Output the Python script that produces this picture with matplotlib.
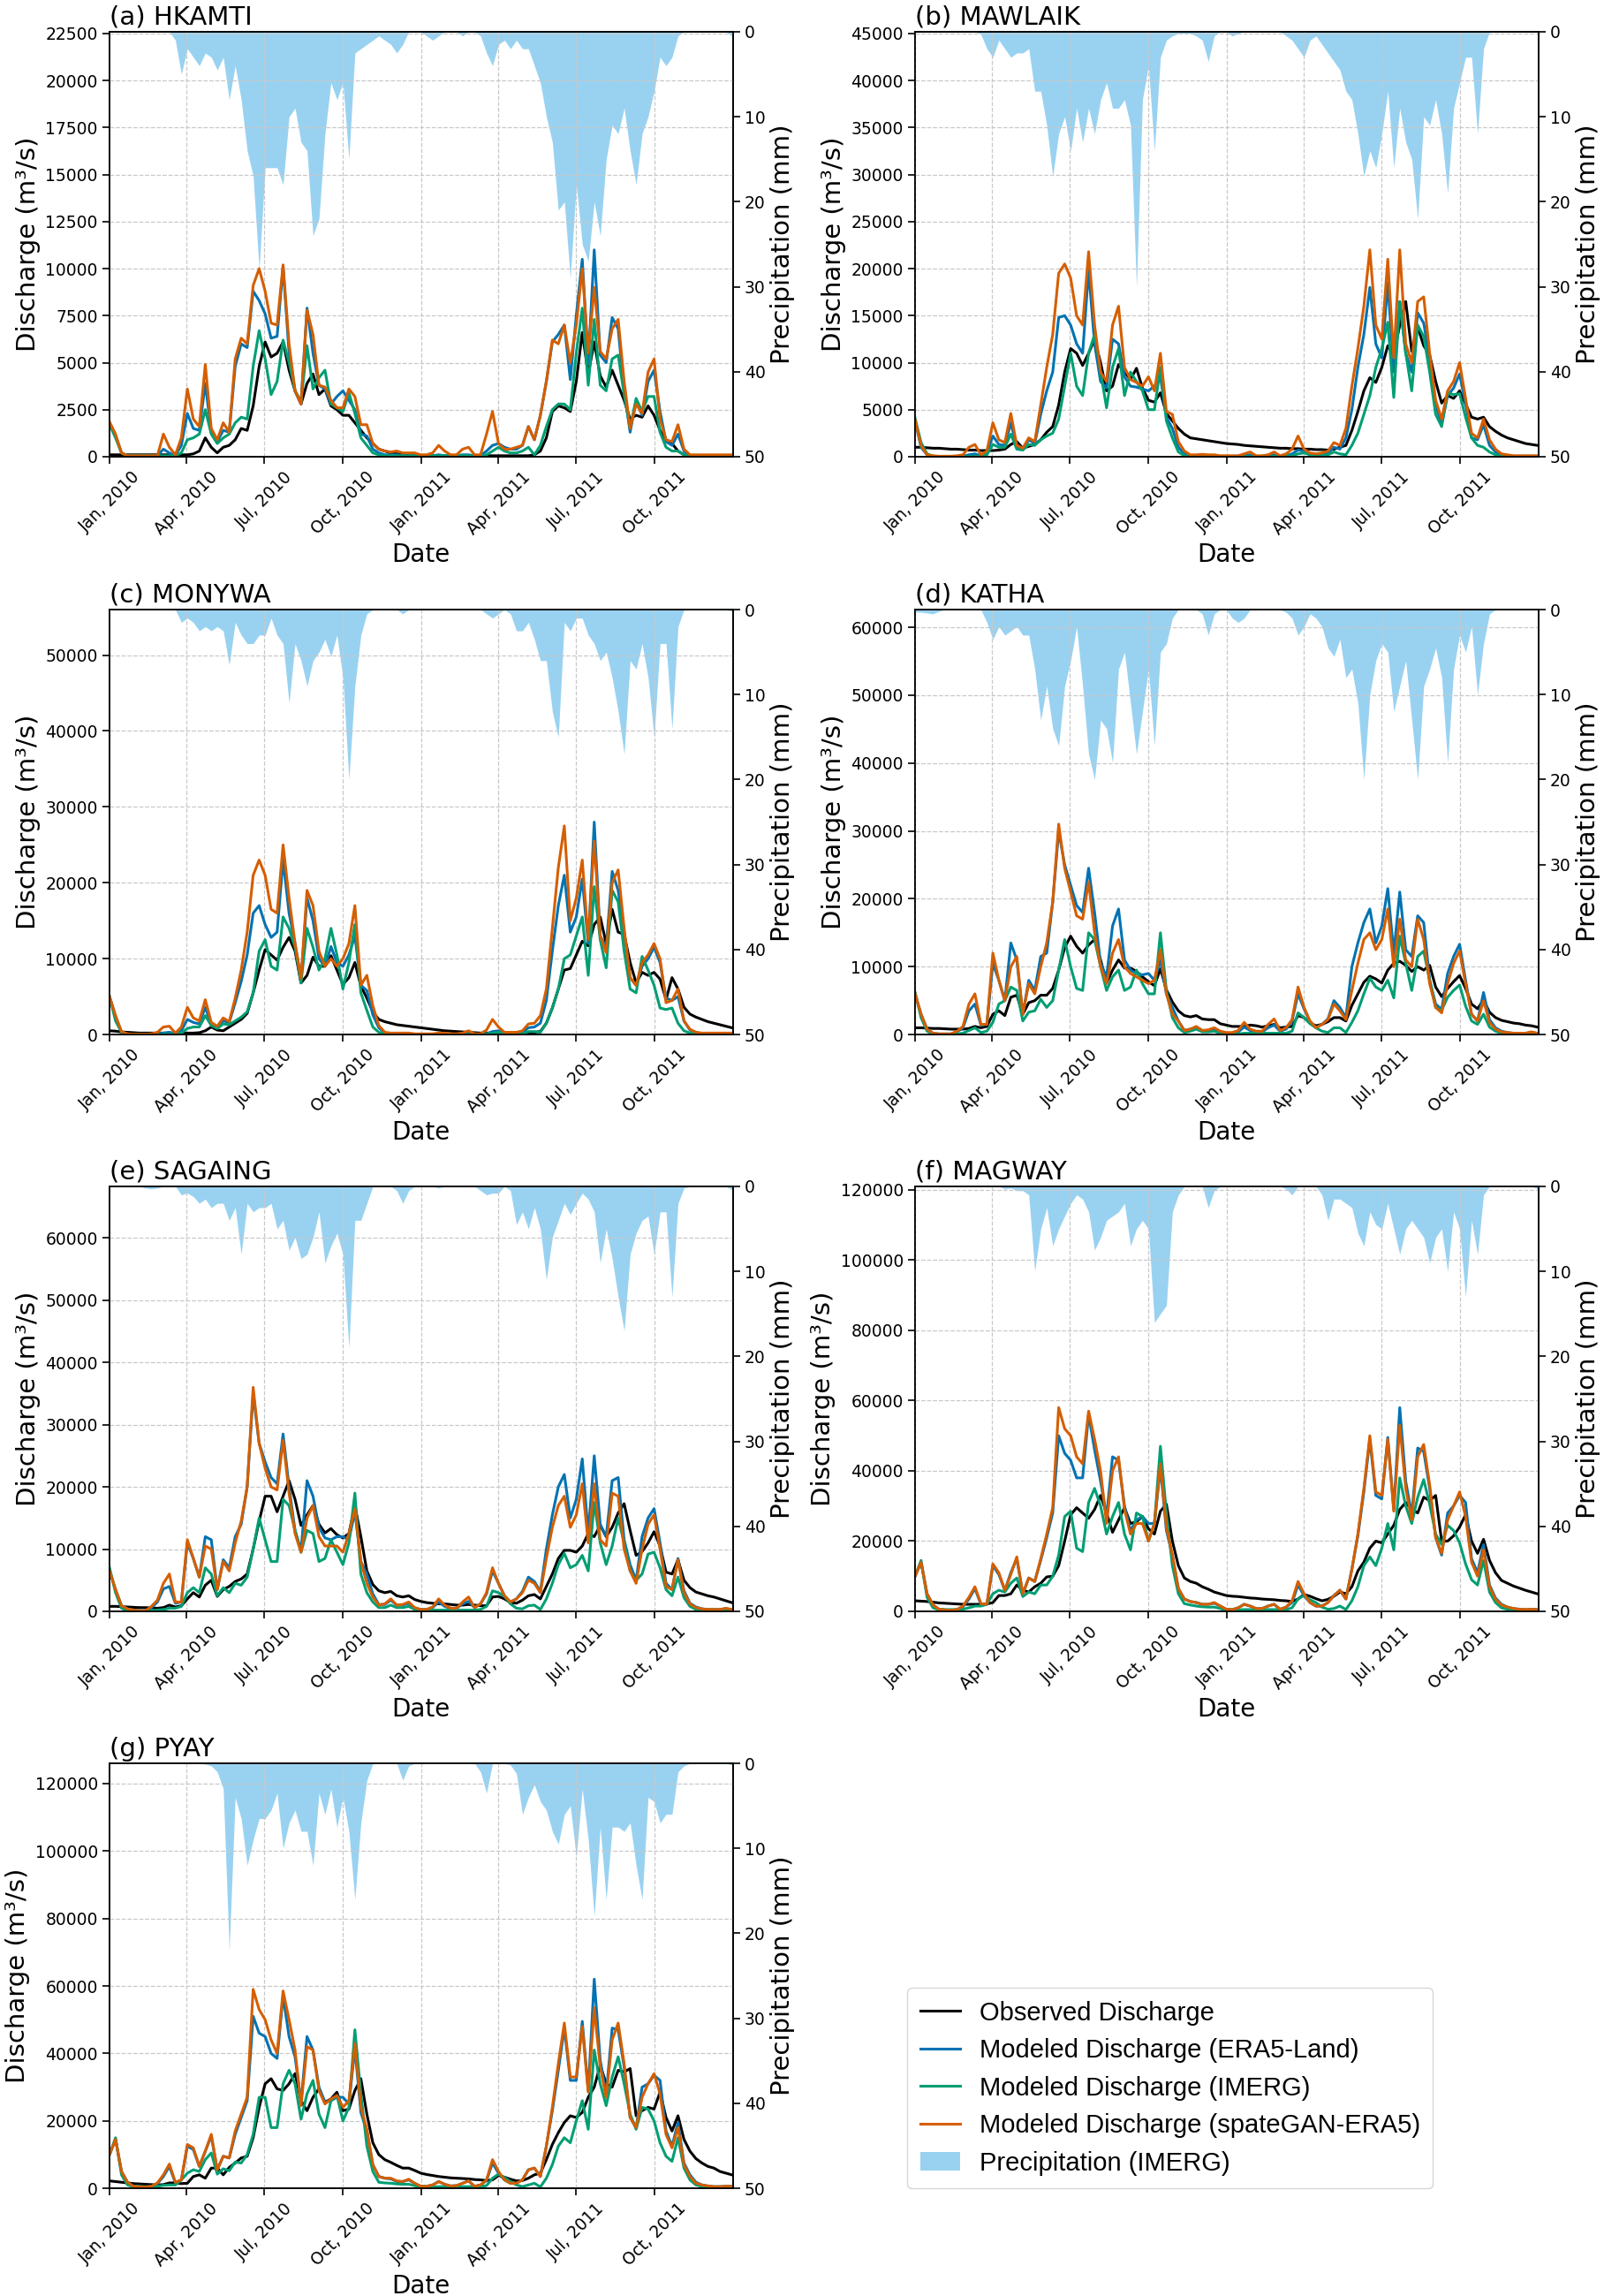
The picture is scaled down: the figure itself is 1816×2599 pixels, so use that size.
import numpy as np
import pandas as pd
import matplotlib
matplotlib.use('Agg')
import matplotlib.pyplot as plt
import matplotlib.dates as mdates
from matplotlib.ticker import MultipleLocator
from matplotlib.lines import Line2D
from matplotlib.patches import Patch

# weekly readings from 2010-01-01, discharge in 1000 m3/s, precipitation in mm

# (a) HKAMTI
HK_OBS = [0.1,0.1,0.1,0.1,0.1,0.1,0.1,0.1,0.1,0.1,
          0.1,0.1,0.1,0.1,0.15,0.3,1.0,0.5,0.2,0.5,
          0.6,0.9,1.5,1.4,2.7,4.8,6.1,5.3,5.5,6.1,
          4.6,3.5,2.8,3.9,4.4,3.3,3.6,2.7,2.5,2.2,
          2.2,1.8,1.4,1.0,0.7,0.4,0.3,0.2,0.15,0.1,
          0.05,0.05,0.05,0.05,0.05,0.05,0.05,0.05,0.05,0.05,
          0.05,0.05,0.05,0.05,0.05,0.05,0.05,0.05,0.05,0.05,
          0.05,0.1,0.3,1.0,2.4,2.7,2.6,2.4,4.0,6.6,
          4.4,6.1,4.3,3.7,4.6,3.8,3.0,2.0,2.2,2.1,
          2.7,2.2,1.4,0.8,0.7,0.3,0.1,0.05,0.05,0.05,
          0.05,0.05,0.05,0.05,0.05]
HK_ERA5 = [1.8,1.1,0.2,0.05,0.05,0.05,0.05,0.05,0.05,0.4,
           0.2,0.05,0.6,2.3,1.5,1.4,3.9,1.3,0.8,1.4,
           1.3,4.8,6.0,5.8,8.8,8.3,7.6,6.3,6.4,10.1,
           5.5,3.5,2.9,7.9,5.5,3.8,3.6,2.8,3.2,3.5,
           3.0,2.5,1.2,1.1,0.4,0.2,0.1,0.1,0.1,0.05,
           0.05,0.05,0.05,0.05,0.05,0.1,0.05,0.05,0.05,0.1,
           0.1,0.05,0.05,0.3,0.6,0.7,0.5,0.4,0.4,0.6,
           1.6,0.9,2.2,4.0,6.1,6.5,7.0,4.1,7.5,10.5,
           5.0,11.0,5.4,5.0,7.4,6.8,3.5,1.3,3.0,2.2,
           4.0,4.6,2.4,0.8,0.6,1.2,0.3,0.05,0.05,0.05,
           0.05,0.05,0.05,0.05,0.05]
HK_IMERG = [1.7,1.0,0.2,0.05,0.05,0.05,0.05,0.05,0.05,0.05,
            0.05,0.05,0.2,0.9,1.0,1.2,2.5,1.2,0.7,1.0,
            1.2,1.8,2.1,2.0,4.8,6.7,5.2,3.3,4.0,6.2,
            5.0,3.5,2.9,5.9,3.6,4.2,4.6,2.8,2.6,2.4,
            3.4,2.3,1.0,0.6,0.2,0.1,0.05,0.05,0.05,0.05,
            0.05,0.05,0.05,0.05,0.05,0.05,0.05,0.05,0.05,0.05,
            0.05,0.05,0.05,0.1,0.3,0.5,0.3,0.2,0.2,0.3,
            0.5,0.1,0.6,1.6,2.5,2.8,2.8,2.5,5.5,7.9,
            3.8,7.3,3.8,3.5,5.2,5.4,3.3,1.5,3.1,2.4,
            3.2,3.2,1.3,0.5,0.3,0.3,0.1,0.02,0.02,0.02,
            0.02,0.02,0.02,0.02,0.02]
HK_GAN = [1.85,1.2,0.2,0.05,0.05,0.05,0.05,0.05,0.05,1.2,
          0.5,0.1,1.0,3.6,2.0,1.6,4.9,1.5,0.9,1.8,
          1.3,5.2,6.3,6.0,9.1,10.0,8.8,7.1,7.0,10.2,
          6.0,3.5,2.8,7.8,6.5,3.8,3.7,3.0,2.6,2.6,
          3.6,3.2,1.7,1.7,0.7,0.4,0.3,0.25,0.3,0.2,
          0.2,0.2,0.1,0.1,0.2,0.6,0.3,0.1,0.1,0.4,
          0.5,0.1,0.1,1.2,2.4,0.7,0.4,0.4,0.5,0.6,
          1.6,0.9,2.2,4.0,6.2,6.0,7.0,5.0,7.0,10.0,
          5.5,9.0,5.6,5.2,6.8,7.3,4.0,1.5,2.8,2.3,
          4.5,5.2,2.0,0.9,0.8,1.7,0.4,0.1,0.1,0.1,
          0.1,0.1,0.1,0.1,0.1]
HK_PRECIP = [0,0,0,0,0,0,0,0,0,0,
             0,1,5,2,3,4,2.5,3,4.5,3,
             8,4,8,14,17,28,16,16,16,18,
             10,9,13,14,24,22,12,6,8,6,
             15,2.5,2,1.5,1,0.5,1,1.5,2.5,1.5,
             0,0,0,0.5,1,0.5,0,0,0,0.5,
             0,0,0.5,2.5,4,1.5,1,2,1,2,
             2,4,6,10,13,21,20,29,18,25,
             27,20,24,15,11,12,9,14,18,12,
             10,7,3,4,3,0.5,0,0,0,0,
             0,0,0,0,0.5]

# (b) MAWLAIK
MW_OBS = [1.0,1.0,0.95,0.9,0.9,0.85,0.8,0.8,0.75,0.7,
          0.7,0.65,0.65,0.65,0.7,0.8,1.3,1.6,0.9,1.1,
          1.3,1.8,2.6,3.2,5.5,9.0,11.5,11.0,9.7,11.0,
          12.5,10.0,7.0,7.5,9.8,9.0,8.2,9.4,7.3,6.0,
          5.8,6.8,4.6,3.8,3.0,2.4,2.0,1.9,1.8,1.7,
          1.6,1.5,1.4,1.35,1.3,1.2,1.15,1.1,1.05,1.0,
          0.95,0.9,0.9,0.85,0.85,0.8,0.8,0.75,0.75,0.7,
          0.8,1.0,1.2,2.8,4.8,7.0,8.4,7.9,9.5,11.8,
          10.8,14.0,16.5,11.2,13.8,11.8,10.8,8.0,5.7,6.5,
          6.2,7.0,5.6,4.2,4.0,4.2,3.2,2.7,2.3,2.0,
          1.8,1.6,1.4,1.3,1.2]
MW_ERA5 = [3.8,1.0,0.2,0.05,0.02,0.02,0.02,0.02,0.05,0.2,
           0.3,0.1,0.4,2.2,1.3,1.2,3.6,1.0,0.8,1.8,
           1.4,4.5,7.0,9.0,14.8,15.0,14.0,12.0,11.0,19.8,
           12.0,8.0,7.3,12.5,12.0,8.5,7.5,7.4,7.2,7.0,
           7.5,8.5,4.2,3.0,1.0,0.3,0.1,0.1,0.1,0.1,
           0.05,0.05,0.05,0.05,0.05,0.1,0.2,0.05,0.05,0.05,
           0.2,0.05,0.1,0.3,0.7,0.6,0.3,0.2,0.2,0.4,
           1.0,0.8,2.0,5.0,9.5,13.0,18.0,12.0,10.5,18.5,
           9.0,16.5,11.0,9.0,15.3,14.2,10.5,5.5,3.5,6.5,
           7.3,8.8,5.6,2.0,1.8,3.4,1.2,0.5,0.2,0.1,
           0.05,0.05,0.05,0.05,0.05]
MW_IMERG = [4.1,1.5,0.3,0.05,0.02,0.02,0.02,0.02,0.02,0.02,
            0.05,0.05,0.2,1.3,1.0,1.0,2.4,0.8,0.7,1.3,
            1.2,1.8,2.2,2.5,4.0,7.5,11.0,7.5,6.5,11.0,
            13.0,9.0,5.2,9.5,11.5,6.5,9.0,8.0,7.0,5.0,
            5.0,9.5,3.8,2.0,0.5,0.1,0.02,0.02,0.02,0.02,
            0.02,0.02,0.02,0.02,0.02,0.02,0.02,0.02,0.02,0.02,
            0.05,0.02,0.05,0.1,0.3,0.4,0.2,0.1,0.1,0.2,
            0.5,0.3,0.2,1.2,2.5,4.5,6.5,9.5,11.5,14.3,
            6.3,16.5,11.0,7.0,14.0,12.8,9.0,4.5,3.2,6.8,
            6.6,6.7,4.2,2.0,1.2,1.0,0.5,0.2,0.05,0.02,
            0.02,0.02,0.02,0.02,0.02]
MW_GAN = [3.9,1.2,0.2,0.1,0.05,0.05,0.05,0.1,0.2,1.0,
          1.3,0.2,0.6,3.6,1.8,1.5,4.6,1.2,0.9,2.0,
          1.6,5.5,9.5,13.0,19.5,20.5,19.0,15.0,14.0,21.8,
          14.0,9.0,8.0,14.0,16.0,9.5,8.2,7.9,7.5,8.5,
          7.0,11.0,4.8,4.5,1.6,0.6,0.2,0.2,0.25,0.2,
          0.2,0.1,0.1,0.1,0.1,0.3,0.5,0.1,0.1,0.2,
          0.5,0.1,0.3,0.8,2.2,0.8,0.4,0.3,0.4,0.6,
          1.5,1.2,3.0,7.5,11.5,16.0,22.0,14.0,12.5,21.0,
          10.5,22.0,12.0,10.0,16.5,17.0,11.0,6.0,4.0,7.0,
          8.0,10.0,6.2,2.5,2.0,4.0,1.8,0.8,0.3,0.2,
          0.1,0.1,0.1,0.1,0.1]
MW_PRECIP = [0,0,0,0,0,0,0,0,0,0,
             0,0.3,2,3,1,2,3,2.5,2.5,2,
             7,7,11,17,12,10,14,9,13,9,
             12,8,6,9,9,8,11,30,8,4,
             14,3,1,0.5,0.2,0.2,0.2,0.5,1,3.5,
             0.5,0,0,0.5,0.2,0,0,0,0,0,
             0,0,0.5,1,2,3,1,0.5,1.5,2.5,
             3.5,4.5,7,8,12,17,14,16,12,7,
             16,9,13,15,22,10,11,8,12,19,
             9,6,3,3,12,2,0,0,0,0,
             0,0,0,0,0]

# (c) MONYWA
MY_OBS = [0.5,0.45,0.35,0.3,0.25,0.2,0.2,0.2,0.2,0.2,
          0.2,0.2,0.2,0.2,0.2,0.25,0.5,1.0,0.6,0.5,
          1.0,1.5,2.0,2.8,5.5,8.5,11.2,10.5,9.8,11.5,
          12.8,11.0,6.8,7.8,10.2,9.0,9.0,10.4,8.5,6.6,
          7.5,9.5,6.4,4.8,3.0,2.0,1.7,1.5,1.3,1.2,
          1.1,1.0,0.9,0.8,0.7,0.6,0.5,0.45,0.4,0.35,
          0.3,0.25,0.2,0.2,0.2,0.2,0.2,0.2,0.25,0.3,
          0.3,0.3,0.4,1.5,3.5,6.0,8.5,8.7,10.5,12.3,
          11.7,14.5,15.5,12.0,16.5,13.5,13.2,9.5,6.8,8.2,
          7.8,8.2,7.3,4.6,7.5,6.0,3.6,2.7,2.3,2.0,
          1.7,1.5,1.3,1.1,0.9]
MY_ERA5 = [5.0,2.4,0.3,0.05,0.05,0.05,0.05,0.05,0.1,0.2,
           0.3,0.1,0.5,2.0,1.6,1.4,3.6,1.3,0.9,1.8,
           1.6,4.2,7.0,10.5,16.0,17.0,14.5,12.8,13.5,23.0,
           16.0,12.0,7.2,18.0,15.0,10.0,9.0,11.6,9.5,9.0,
           10.5,13.0,6.5,5.8,2.6,0.9,0.2,0.1,0.1,0.1,
           0.1,0.05,0.05,0.05,0.05,0.05,0.05,0.05,0.05,0.05,
           0.1,0.05,0.05,0.1,0.4,0.5,0.2,0.2,0.2,0.3,
           0.9,1.0,1.5,4.5,11.0,17.0,21.0,13.5,15.5,20.5,
           12.0,28.0,13.0,11.5,21.5,19.0,13.5,7.5,6.5,9.0,
           10.0,11.5,9.5,4.8,4.5,5.0,1.8,0.6,0.3,0.1,
           0.1,0.1,0.1,0.1,0.1]
MY_IMERG = [5.0,1.8,0.3,0.05,0.02,0.02,0.02,0.02,0.02,0.02,
            0.05,0.05,0.2,0.8,1.0,1.0,2.5,1.2,0.8,1.4,
            1.3,1.8,2.3,3.0,5.5,11.0,12.5,9.0,8.5,15.5,
            14.0,11.5,6.8,14.0,11.5,8.5,10.0,14.0,10.5,6.0,
            9.5,14.5,5.5,3.2,1.0,0.3,0.05,0.02,0.02,0.02,
            0.02,0.02,0.02,0.02,0.02,0.02,0.02,0.02,0.02,0.02,
            0.02,0.02,0.02,0.05,0.2,0.3,0.1,0.05,0.05,0.1,
            0.4,0.4,0.3,1.5,3.5,6.0,10.0,10.5,13.0,15.5,
            7.8,19.5,12.5,8.8,19.0,17.5,11.0,6.0,5.5,10.3,
            8.5,6.5,3.5,3.3,3.5,1.5,0.5,0.2,0.1,0.05,
            0.05,0.05,0.05,0.05,0.05]
MY_GAN = [5.0,2.5,0.4,0.1,0.05,0.05,0.05,0.1,0.3,1.0,
          1.1,0.2,1.0,3.6,2.2,1.8,4.6,1.6,1.1,2.2,
          1.7,4.8,8.5,13.5,21.0,23.0,21.0,16.5,16.0,25.0,
          18.0,12.0,7.4,19.0,17.0,11.0,9.0,10.0,9.0,10.0,
          12.0,17.0,6.5,7.8,3.8,1.2,0.3,0.2,0.2,0.2,
          0.2,0.1,0.1,0.1,0.1,0.2,0.2,0.1,0.1,0.2,
          0.5,0.1,0.1,0.6,2.0,1.0,0.3,0.3,0.3,0.5,
          1.4,1.5,2.5,6.0,14.0,22.0,27.5,15.0,18.0,23.0,
          12.5,25.5,13.0,10.8,20.0,21.7,14.0,7.5,6.5,9.5,
          10.5,12.0,10.0,4.2,4.5,6.0,1.8,0.7,0.3,0.2,
          0.2,0.2,0.2,0.2,0.2]
MY_PRECIP = [0,0,0,0,0,0,0,0,0,0,
             0,0,1.5,1,1.5,2.5,2,2.5,2,2.5,
             6.5,1.5,3,4,4,3,3,1,3,4,
             11,4,6,9,6,5,3.5,5.5,3,8,
             20,9,3,0.5,0,0,0,0,0,0.5,
             0,0,0,0,0,0,0,0,0,0,
             0,0,0,0.5,1,0.5,0,0.5,2.5,2.5,
             1.5,3.5,6,6,12,15,1.5,2.5,1,1,
             3,4,6,5,8,12,17,6,7,4,
             8,15,4,4,14,2,0,0,0,0,
             0,0,0,0,0.2]

# (d) KATHA
KT_OBS = [1.0,1.0,0.95,0.9,0.9,0.85,0.8,0.8,0.8,0.9,
          1.2,1.0,1.2,3.0,3.5,2.8,5.5,5.8,3.0,4.7,
          5.0,5.8,5.8,6.8,9.5,12.8,14.5,13.0,12.0,13.2,
          14.0,11.0,7.6,9.5,11.0,9.8,9.8,9.3,8.5,7.8,
          7.2,9.7,6.6,4.8,3.5,2.8,2.6,2.8,2.3,2.2,
          2.2,1.6,1.4,1.2,1.2,1.2,1.4,1.3,1.1,1.3,
          1.5,1.0,1.1,1.2,2.8,2.5,1.7,1.3,1.5,1.9,
          2.5,2.5,2.0,4.3,6.0,7.7,8.6,8.2,7.6,9.5,
          10.5,10.8,10.2,9.3,10.0,9.5,10.2,7.0,5.6,6.8,
          7.8,8.7,6.8,4.5,3.8,5.1,3.3,2.5,2.1,1.9,
          1.7,1.6,1.4,1.3,1.1]
KT_ERA5 = [6.0,3.0,0.8,0.2,0.1,0.1,0.1,0.4,1.0,3.5,
           4.5,1.4,1.5,10.5,8.0,5.0,13.5,11.0,3.0,8.0,
           6.5,11.5,12.0,19.5,30.0,25.0,22.0,19.0,18.0,24.5,
           18.0,10.5,8.5,16.0,18.5,11.0,9.5,9.0,8.8,9.0,
           8.0,11.0,6.0,4.0,2.0,0.6,0.8,1.1,0.6,0.6,
           0.8,0.4,0.2,0.2,0.4,1.1,0.6,0.4,0.4,1.0,
           1.4,0.5,0.8,2.0,6.0,3.8,1.9,1.0,1.5,2.3,
           5.0,4.0,2.5,10.0,13.5,16.5,18.5,13.5,16.0,21.5,
           12.0,21.0,12.5,11.5,17.5,16.5,8.0,4.5,3.7,9.0,
           11.5,13.3,8.0,3.0,2.0,6.2,2.2,1.0,0.5,0.3,
           0.2,0.2,0.2,0.3,0.2]
KT_IMERG = [6.2,2.5,0.5,0.1,0.05,0.05,0.05,0.1,0.2,0.6,
            1.0,0.3,0.5,1.8,4.5,5.0,7.0,6.5,2.0,3.3,
            3.5,5.2,4.0,5.0,9.5,14.0,10.0,6.8,6.5,15.0,
            14.0,10.0,6.5,8.5,9.5,6.5,7.0,9.5,7.5,6.0,
            6.0,15.0,6.5,2.5,1.0,0.3,0.5,0.8,0.4,0.4,
            0.5,0.2,0.1,0.1,0.1,0.2,0.2,0.2,0.2,0.2,
            0.2,0.2,0.2,0.5,3.2,2.5,1.6,1.0,0.5,0.3,
            1.0,1.0,0.3,1.8,3.5,6.0,8.3,7.0,6.5,8.0,
            5.4,14.5,10.5,6.5,11.5,12.3,8.0,4.0,3.6,5.5,
            6.5,7.3,4.2,2.0,1.5,3.0,1.1,0.5,0.2,0.1,
            0.05,0.05,0.05,0.05,0.05]
KT_GAN = [6.0,3.0,0.8,0.2,0.1,0.1,0.1,0.5,1.2,4.5,
          6.0,1.5,1.5,12.0,8.0,5.0,10.0,11.5,3.0,7.5,
          6.0,10.0,13.5,19.5,31.0,24.5,21.0,17.5,17.0,22.5,
          15.0,10.0,7.5,12.0,14.0,10.0,9.0,8.5,8.0,7.5,
          8.0,12.5,6.0,3.0,2.0,0.6,0.8,1.2,0.6,0.7,
          1.0,0.5,0.3,0.3,0.6,1.8,0.8,0.5,0.5,1.5,
          2.3,0.6,1.0,2.2,7.0,4.0,2.0,1.0,1.5,2.2,
          4.5,3.5,2.2,6.5,10.5,14.0,15.0,12.5,14.0,18.5,
          10.0,17.0,11.0,10.0,17.0,14.0,7.5,4.0,3.2,7.5,
          10.5,12.3,7.5,3.0,2.0,5.0,1.8,0.8,0.4,0.3,
          0.2,0.2,0.2,0.4,0.2]
KT_PRECIP = [0.3,0.3,0.4,0.5,0.2,0,0,0,0,0,
             0,0,1.5,3.5,2,3,2.5,2,3,3,
             7,13,9,14,16,9,6,2,9,17,
             20,13,14,18,7,5,11,17,12,7,
             16,5,4,1,0,0,0,0,0.5,3,
             0.5,0,0,1,1.5,1,0,0,0,0,
             0,0,0.3,1,3,2,0.5,1,2,4.5,
             5.5,3.5,8,7,11,20,10,6,4,5,
             12,9,6,13,20,9,7,4.5,8,18,
             7,3,5,2,10,4,0.5,0,0,0,
             0,0,0,0,0]

# (e) SAGAING
SG_OBS = [0.8,0.8,0.75,0.7,0.65,0.6,0.6,0.55,0.5,0.6,
          1.0,0.7,0.9,2.0,3.0,2.3,4.2,5.0,2.4,3.5,
          4.0,4.8,5.2,6.0,10.0,14.5,18.5,18.5,16.0,18.5,
          21.0,18.0,13.8,15.5,17.0,14.0,12.6,13.3,12.3,11.8,
          12.5,17.0,12.0,6.5,4.3,3.3,3.0,3.2,2.5,2.3,
          2.5,1.9,1.6,1.4,1.3,1.2,1.2,1.1,1.0,1.0,
          1.1,1.0,0.9,0.9,2.3,2.4,2.0,1.4,1.3,1.8,
          2.5,2.7,2.0,4.0,6.0,8.5,9.8,9.8,9.5,10.5,
          12.5,12.0,13.8,12.0,13.5,15.8,17.3,13.0,9.0,9.6,
          11.0,12.8,10.5,6.3,6.0,8.3,5.0,3.8,3.1,2.8,
          2.5,2.3,2.0,1.7,1.4]
SG_ERA5 = [6.5,3.5,0.9,0.4,0.2,0.1,0.1,0.6,1.5,3.6,
           4.0,1.3,1.5,11.0,8.5,5.5,12.0,11.5,3.5,8.3,
           7.0,12.0,14.0,20.0,35.0,27.0,24.0,21.5,20.5,28.5,
           20.0,13.0,9.8,21.0,18.5,13.5,11.8,11.5,12.0,12.0,
           11.5,16.0,8.0,6.0,2.8,1.1,1.1,1.8,1.0,1.0,
           1.3,0.5,0.3,0.3,0.6,1.5,0.8,0.5,0.5,1.2,
           1.6,0.6,1.2,2.8,6.5,4.5,2.5,1.5,2.0,3.2,
           5.5,4.8,3.2,10.0,15.5,20.0,22.0,15.0,18.0,24.5,
           12.5,25.0,14.0,12.0,21.0,21.5,11.5,7.5,5.0,12.0,
           15.0,16.5,11.0,4.5,3.5,8.5,3.3,1.3,0.7,0.4,
           0.3,0.3,0.3,0.4,0.3]
SG_IMERG = [7.0,3.0,0.5,0.1,0.1,0.1,0.1,0.1,0.2,0.3,
            0.5,0.5,0.8,3.0,3.8,3.0,7.0,6.0,2.5,3.8,
            3.0,4.5,4.2,5.5,10.0,15.0,11.5,8.0,8.0,18.0,
            17.0,13.0,9.5,13.0,12.5,8.0,8.5,11.5,9.5,7.5,
            11.0,19.0,6.0,3.0,1.5,0.6,0.6,1.0,0.6,0.6,
            0.8,0.3,0.1,0.1,0.2,0.2,0.2,0.2,0.2,0.2,
            0.2,0.2,0.3,0.8,3.3,3.0,2.4,1.2,0.5,0.4,
            0.9,1.0,0.3,2.0,4.5,7.5,9.3,7.0,7.5,9.0,
            6.5,17.5,11.0,7.5,10.5,15.0,11.0,6.5,5.0,6.0,
            9.2,9.5,7.0,3.5,2.5,5.5,2.2,0.8,0.3,0.1,
            0.1,0.1,0.1,0.1,0.1]
SG_GAN = [6.5,3.5,0.9,0.4,0.2,0.1,0.1,0.8,1.8,4.5,
          6.0,1.5,1.5,11.5,8.5,5.5,10.5,10.0,3.5,8.0,
          6.5,11.0,14.5,20.0,36.0,27.0,23.0,20.0,19.5,27.5,
          19.0,12.5,9.5,15.0,17.0,12.0,10.5,10.5,10.5,9.5,
          12.5,16.5,8.0,4.5,2.3,1.0,1.2,2.0,1.0,1.1,
          1.5,0.6,0.3,0.3,0.7,2.0,1.0,0.5,0.5,1.5,
          2.3,0.6,1.2,3.0,7.0,4.5,2.5,1.5,2.0,3.0,
          5.0,4.5,3.0,8.5,13.5,17.0,18.5,13.5,15.5,20.5,
          11.0,20.5,11.5,10.5,19.0,18.5,10.0,6.5,4.5,10.0,
          14.0,15.5,10.0,4.0,3.5,8.3,3.0,1.2,0.6,0.4,
          0.3,0.3,0.3,0.5,0.3]
SG_PRECIP = [0,0,0,0,0,0,0.2,0.3,0.2,0,
             0,0,1,0.8,1.2,2,1.5,2.5,2,2,
             4,2.5,8,2,3,2.5,2.5,2,5,4,
             7.5,6,8.5,8,6,3,9,7,5.5,8,
             19,4,4,2,0,0,0,0,0.5,2,
             0.5,0,0,0,0,0.2,0,0,0,0,
             0,0,0.5,1,0.8,0.8,0,0.5,4.5,3,
             5,2.5,5,11,6,4,2,3.3,2,0.8,
             1.5,3,9,5,8.5,13,17,8,5.5,4,
             3.5,8,3,3,13,2,0.2,0,0,0,
             0,0,0,0,0.4]

# (f) MAGWAY
MG_OBS = [3.0,2.9,2.8,2.6,2.4,2.3,2.2,2.1,2.0,2.0,
          2.0,2.0,2.1,2.5,4.5,4.5,5.0,7.5,6.0,5.5,
          7.0,8.0,9.8,10.0,13.0,20.0,27.5,29.5,28.0,26.5,
          29.0,33.0,28.0,22.5,26.0,29.5,25.0,25.5,27.0,23.5,
          22.0,28.5,30.5,20.0,13.0,9.5,8.5,8.0,7.0,6.3,
          5.5,5.0,4.5,4.3,4.2,4.0,3.8,3.7,3.5,3.4,
          3.3,3.1,3.0,2.8,3.5,4.8,4.3,3.6,3.0,3.4,
          4.3,5.5,5.0,7.0,11.5,14.0,18.0,20.0,19.5,22.0,
          24.5,29.0,31.0,29.0,28.0,32.5,31.5,33.0,20.0,20.0,
          21.5,24.0,27.5,20.0,16.5,20.5,14.5,11.0,8.8,8.0,
          7.2,6.6,6.0,5.5,5.0]
MG_ERA5 = [10.0,14.0,5.0,1.8,0.6,0.4,0.3,0.5,1.3,3.5,
           6.5,2.0,2.0,13.0,10.5,6.0,11.0,15.0,5.0,9.5,
           8.5,14.5,21.0,28.0,50.0,45.0,43.0,38.0,38.0,56.0,
           46.0,37.0,27.0,44.0,43.0,30.0,23.0,26.0,27.0,25.0,
           25.0,41.0,23.0,16.0,6.5,3.5,2.8,2.5,2.0,2.0,
           2.3,1.5,0.6,0.5,1.0,2.0,1.5,0.8,0.8,1.5,
           2.0,0.6,1.2,2.5,7.5,4.5,2.5,1.5,1.5,2.5,
           4.5,6.0,3.5,12.0,21.5,34.0,49.0,33.0,32.0,49.5,
           29.0,58.0,37.0,27.5,46.5,45.5,35.0,21.0,16.0,28.0,
           30.0,33.0,31.0,15.0,11.0,19.0,7.5,3.8,2.0,1.2,
           0.8,0.6,0.5,0.6,0.5]
MG_IMERG = [10.0,14.5,4.0,1.0,0.5,0.5,0.5,0.5,0.6,1.0,
            1.5,1.5,2.0,5.0,6.0,5.5,8.0,9.5,4.2,5.5,
            5.0,7.5,7.5,10.0,16.0,27.0,28.5,18.0,17.0,31.0,
            35.0,30.0,22.0,27.0,31.0,22.0,17.5,28.0,27.0,20.0,
            25.0,47.0,28.0,13.0,5.0,2.2,1.8,1.5,1.3,1.2,
            1.2,0.8,0.3,0.3,0.4,0.5,0.5,0.5,0.5,0.5,
            0.5,0.5,0.5,1.0,3.5,4.5,3.3,2.5,1.2,0.6,
            0.8,1.5,0.5,3.0,7.0,13.0,15.5,13.0,18.0,25.0,
            17.5,38.0,30.0,25.0,32.5,37.5,30.5,22.0,19.0,24.5,
            23.0,19.5,13.5,9.0,7.5,14.5,5.5,2.5,1.0,0.6,
            0.4,0.3,0.3,0.3,0.3]
MG_GAN = [10.0,14.0,5.0,1.8,0.6,0.4,0.3,0.5,1.5,4.0,
          7.0,2.2,2.0,13.5,11.0,6.0,10.5,15.5,5.0,9.5,
          8.5,15.0,22.0,29.5,58.0,52.0,50.0,44.0,42.0,57.0,
          49.0,40.0,25.0,40.0,44.0,29.0,22.0,25.0,25.0,20.0,
          25.0,42.0,24.0,16.0,6.5,3.5,2.8,2.5,2.0,2.0,
          2.5,1.5,0.6,0.5,1.0,2.0,1.5,0.8,0.8,1.5,
          2.0,0.6,1.2,3.0,8.5,5.0,2.5,1.5,1.5,2.5,
          4.5,6.0,3.5,12.0,22.0,35.0,50.0,34.0,33.0,49.0,
          28.5,53.0,35.0,26.0,44.0,47.5,36.0,21.0,16.5,26.0,
          30.0,34.0,27.0,14.0,10.0,17.5,7.0,3.5,1.8,1.2,
          0.8,0.6,0.5,0.6,0.5]
MG_PRECIP = [0,0,0,0,0,0,0,0,0,0,
             0,0,0,0,0,0.3,0.2,0.5,0.5,1,
             10,5,2.5,7,5,3.5,2,1,1.5,3,
             7.5,6,4,3.5,3,2,7,5,4,5,
             16,15,14,3,1,0,0,0,0,2.5,
             0.5,0,0,0,0,0,0,0,0,0,
             0,0,0.3,1,0,0,0,0,1,4,
             1.5,1.5,2,2.5,5.5,7,3,4.5,5,2,
             5,8,5,4,5,6,9,6,5,10,
             3,5,13,4,8,1,0,0,0,0,
             0,0,0,0,0.3]

# (g) PYAY
PY_OBS = [2.2,2.0,1.8,1.6,1.4,1.3,1.2,1.1,1.0,1.1,
          1.6,1.6,1.4,1.5,3.5,4.0,3.0,6.0,6.0,4.0,
          6.2,7.5,9.0,9.5,15.0,24.0,31.0,32.5,29.5,29.0,
          31.0,34.0,26.0,23.0,27.0,29.5,25.5,26.5,28.5,23.0,
          23.5,29.0,32.5,22.0,13.5,10.0,8.5,7.7,6.8,6.0,
          6.0,5.3,4.5,4.1,3.8,3.5,3.3,3.1,3.0,2.9,
          2.8,2.6,2.5,2.3,2.5,3.8,3.3,2.7,2.2,2.3,
          3.0,4.0,4.5,8.5,13.0,16.5,19.5,21.5,21.0,22.5,
          27.0,30.0,36.5,31.0,30.0,35.0,34.5,35.5,21.5,23.0,
          24.0,23.5,28.5,21.0,17.0,21.5,14.5,11.0,8.8,7.5,
          6.5,6.0,5.0,4.5,4.0]
PY_ERA5 = [10.0,14.5,5.0,1.8,0.6,0.4,0.4,0.6,1.4,3.5,
           6.5,1.6,2.5,12.5,11.5,6.5,11.0,15.5,5.5,9.5,
           9.0,16.0,21.0,26.0,51.0,46.0,45.0,40.0,38.5,57.0,
           45.0,39.0,25.5,45.0,41.0,30.0,25.5,26.0,27.0,27.0,
           25.0,41.5,22.5,17.0,7.0,3.5,3.0,2.8,2.0,2.0,
           2.5,1.5,0.6,0.6,1.0,2.0,1.2,0.7,0.8,1.5,
           2.2,0.6,1.0,2.3,7.5,4.5,2.5,1.5,1.5,2.5,
           5.5,6.0,3.5,12.5,23.0,35.0,47.5,32.0,32.0,49.5,
           29.0,62.0,38.0,28.0,47.5,47.0,36.0,21.0,18.0,30.0,
           31.0,33.5,32.0,17.0,12.5,19.5,7.5,4.0,1.8,1.0,
           0.7,0.5,0.5,0.6,0.6]
PY_IMERG = [10.0,15.0,4.0,1.0,0.5,0.5,0.5,0.5,0.6,0.9,
            1.0,1.0,2.5,4.5,5.5,5.0,8.5,10.5,4.2,5.8,
            5.2,7.8,7.5,10.0,16.0,27.0,27.0,18.0,18.0,31.0,
            35.0,31.0,20.5,28.0,32.0,22.0,18.0,26.0,27.5,20.0,
            24.0,47.0,28.0,12.5,5.0,1.8,1.6,1.5,1.3,1.2,
            1.2,0.8,0.3,0.3,0.4,0.5,0.5,0.5,0.5,0.5,
            0.5,0.5,0.5,0.8,3.0,4.2,3.2,2.0,1.0,0.5,
            1.0,1.5,0.4,3.0,7.0,12.5,15.0,13.5,20.0,26.0,
            17.5,41.0,31.0,24.5,33.0,39.0,31.0,22.0,17.5,24.0,
            23.5,20.0,13.5,9.5,8.0,15.0,6.0,2.5,1.0,0.6,
            0.4,0.3,0.3,0.3,0.3]
PY_GAN = [10.0,14.5,5.0,1.8,0.6,0.4,0.4,0.6,1.6,4.0,
          7.2,1.8,2.5,13.0,12.0,6.5,11.0,16.0,5.5,9.5,
          9.0,17.0,22.0,27.0,59.0,53.0,50.0,44.0,40.0,58.5,
          50.0,41.0,24.5,42.0,41.0,29.0,25.0,26.5,27.5,24.0,
          26.0,43.0,24.0,17.5,7.0,3.5,3.0,3.0,2.2,2.0,
          2.7,1.5,0.6,0.6,1.0,2.0,1.2,0.7,0.8,1.5,
          2.2,0.6,1.0,2.5,8.5,5.0,2.5,1.5,1.5,2.5,
          5.5,6.0,3.5,12.5,24.0,37.0,49.0,33.0,33.0,48.0,
          28.5,53.5,36.0,27.0,44.0,49.0,37.0,21.0,18.0,27.0,
          31.0,34.0,28.0,16.0,12.0,18.0,7.0,3.5,1.5,1.0,
          0.7,0.5,0.5,0.6,0.6]
PY_PRECIP = [0,0,0,0,0,0,0,0,0,0,
             0,0,0,0,0,0,0.1,0.3,1,3,
             22,4,6.5,12,9,6.5,6.5,5.5,3.5,10,
             7,5.5,8,8,12,3.5,6,3,7.5,4,
             8,16,7,2,0,0,0,0,0,2,
             0.3,0,0,0,0,0,0,0,0,0,
             0,0,1,3.5,0,0,0,0.2,1.2,6,
             4,2.5,4.5,5.5,8,9.5,6,5,11,3,
             9,18,7.5,16,7.5,7.5,8,7,12,16,
             4,4.5,7,6,6,1,0.3,0,0,0,
             0,0,0,0,0.2]

stations = [
    ('(a) HKAMTI', HK_OBS, HK_ERA5, HK_IMERG, HK_GAN, HK_PRECIP),
    ('(b) MAWLAIK', MW_OBS, MW_ERA5, MW_IMERG, MW_GAN, MW_PRECIP),
    ('(c) MONYWA', MY_OBS, MY_ERA5, MY_IMERG, MY_GAN, MY_PRECIP),
    ('(d) KATHA', KT_OBS, KT_ERA5, KT_IMERG, KT_GAN, KT_PRECIP),
    ('(e) SAGAING', SG_OBS, SG_ERA5, SG_IMERG, SG_GAN, SG_PRECIP),
    ('(f) MAGWAY', MG_OBS, MG_ERA5, MG_IMERG, MG_GAN, MG_PRECIP),
    ('(g) PYAY', PY_OBS, PY_ERA5, PY_IMERG, PY_GAN, PY_PRECIP),
]
ytops = [22600, 45200, 56000, 62600, 68300, 121000, 126000]
ysteps = [2500, 5000, 10000, 10000, 10000, 20000, 20000]

START = pd.Timestamp('2010-01-01')


def weekly(values):
    return START + pd.to_timedelta(7 * np.arange(len(values)), unit='D')


C_OBS = 'black'
C_ERA = '#0072B2'
C_IMERG = '#009E73'
C_GAN = '#D55E00'
C_PR = '#56B4E9'
LW = 2.2

fig = plt.figure(figsize=(18.16, 25.99), dpi=100)
col_left = [0.0683, 0.5705]
row_bottom = [0.8011, 0.5494, 0.2982, 0.0469]
w, h = 0.3885, 0.1851

for i, (title, obs, era5, imerg, gan, pr) in enumerate(stations):
    r, c = divmod(i, 2)
    ax = fig.add_axes([col_left[c], row_bottom[r], w, h])
    ax2 = ax.twinx()
    ax2.fill_between(weekly(pr), 0, pr, color=C_PR, alpha=0.6, linewidth=0)
    ax2.set_ylim(50, 0)
    ax2.yaxis.set_major_locator(MultipleLocator(10))
    ax2.set_ylabel('Precipitation (mm)', fontsize=21)
    ax2.tick_params(labelsize=13.5, length=6, width=1.2)
    ax.set_zorder(ax2.get_zorder() + 1)
    ax.patch.set_visible(False)

    ax.plot(weekly(obs), np.array(obs) * 1000, color=C_OBS, lw=LW)
    ax.plot(weekly(era5), np.array(era5) * 1000, color=C_ERA, lw=LW)
    ax.plot(weekly(imerg), np.array(imerg) * 1000, color=C_IMERG, lw=LW)
    ax.plot(weekly(gan), np.array(gan) * 1000, color=C_GAN, lw=LW)

    ax.set_xlim(pd.Timestamp('2010-01-01'), pd.Timestamp('2011-12-31'))
    ax.set_ylim(0, ytops[i])
    ax.yaxis.set_major_locator(MultipleLocator(ysteps[i]))
    ax.xaxis.set_major_locator(mdates.MonthLocator(bymonth=[1, 4, 7, 10]))
    ax.xaxis.set_major_formatter(mdates.DateFormatter('%b, %Y'))
    ax.tick_params(labelsize=13.5, length=6, width=1.2)
    plt.setp(ax.get_xticklabels(), rotation=45, ha='center')
    ax.grid(True, linestyle='--', color='#c8c8c8', linewidth=0.9)
    ax.set_title(title, loc='left', fontsize=21, pad=6)
    ax.set_ylabel('Discharge (m³/s)', fontsize=21)
    ax.set_xlabel('Date', fontsize=20)
    for sp in list(ax.spines.values()) + list(ax2.spines.values()):
        sp.set_linewidth(1.2)

handles = [
    Line2D([], [], color=C_OBS, lw=LW),
    Line2D([], [], color=C_ERA, lw=LW),
    Line2D([], [], color=C_IMERG, lw=LW),
    Line2D([], [], color=C_GAN, lw=LW),
    Patch(facecolor=C_PR, alpha=0.6),
]
labels = ['Observed Discharge', 'Modeled Discharge (ERA5-Land)',
          'Modeled Discharge (IMERG)', 'Modeled Discharge (spateGAN-ERA5)',
          'Precipitation (IMERG)']
fig.legend(handles, labels, loc='upper left', bbox_to_anchor=(0.5655, 0.1343),
           borderaxespad=0, prop={'family': 'Liberation Sans', 'size': 21},
           labelspacing=0.5, handlelength=1.55, handletextpad=0.75, borderpad=0.5)

fig.savefig('out.png', dpi=100)
